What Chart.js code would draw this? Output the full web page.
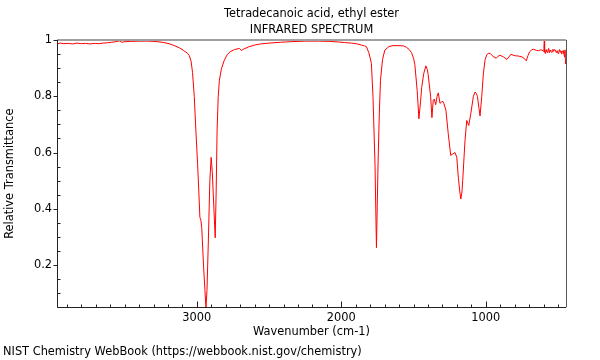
<!DOCTYPE html>
<html>
<head>
<meta charset="utf-8">
<script src="https://cdn.jsdelivr.net/npm/chart.js@4/dist/chart.umd.min.js"></script>
<style>
  body { margin: 0; background: #fff; }
  canvas { display: block; }
</style>
</head>
<body>
<canvas id="spectrum" width="600" height="360"></canvas>
<script>
// spectrum, wavenumber (cm-1) descending
const wavenumber = [
  3968, 3945, 3920, 3890, 3860, 3830, 3800, 3770, 3740, 3710, 3680, 3650, 3620, 3590, 3560, 3535,
  3520, 3500, 3460, 3400, 3340, 3290, 3240, 3200, 3160, 3120, 3090, 3065, 3053, 3040, 3030, 3018,
  3007, 2995, 2987, 2979, 2972, 2966, 2954, 2944, 2937, 2930, 2921, 2910, 2901, 2893, 2882, 2873,
  2866, 2860, 2852, 2844, 2830, 2810, 2790, 2770, 2740, 2706, 2692, 2675, 2640, 2600, 2560, 2500,
  2420, 2350, 2250, 2150, 2080, 2020, 1980, 1930, 1890, 1860, 1840, 1826, 1810, 1800, 1792, 1781,
  1767, 1757, 1746, 1737, 1729, 1715, 1699, 1670, 1642, 1600, 1570, 1549, 1530, 1514, 1500, 1491,
  1475, 1463, 1452, 1444, 1430, 1415, 1405, 1399, 1382, 1373, 1364, 1357, 1347, 1337, 1329, 1317,
  1306, 1297, 1290, 1276, 1260, 1243, 1229, 1213, 1201, 1190, 1180, 1173, 1165, 1160, 1144, 1132,
  1125, 1118, 1104, 1086, 1074, 1066, 1058, 1048, 1040, 1028, 1017, 1005, 993, 980, 970, 950,
  928, 915, 901, 878, 854, 840, 826, 810, 796, 775, 750, 735, 720, 708, 697, 680,
  669, 650, 635, 620, 611, 603, 598, 595, 593, 588, 582, 576, 570, 565, 560, 555,
  550, 545, 541, 536, 530, 525, 518, 512, 506, 500, 495, 490, 485, 480, 475, 471,
  465, 460, 455, 452, 449, 446
];
const transmittance = [
  0.986, 0.989, 0.987, 0.988, 0.986, 0.989, 0.987, 0.988, 0.986, 0.988, 0.987, 0.989, 0.990, 0.992, 0.994, 0.997,
  0.992, 0.994, 0.995, 0.996, 0.996, 0.995, 0.992, 0.988, 0.981, 0.972, 0.962, 0.953, 0.945, 0.925, 0.885, 0.80,
  0.68, 0.56, 0.47, 0.37, 0.36, 0.33, 0.20, 0.11, 0.048, 0.11, 0.275, 0.50, 0.583, 0.53, 0.40, 0.297,
  0.47, 0.68, 0.80, 0.857, 0.898, 0.928, 0.948, 0.958, 0.966, 0.970, 0.963, 0.968, 0.976, 0.982, 0.986, 0.989,
  0.992, 0.994, 0.996, 0.996, 0.995, 0.993, 0.991, 0.989, 0.986, 0.982, 0.979, 0.976, 0.955, 0.935, 0.917, 0.80,
  0.56, 0.262, 0.56, 0.74, 0.857, 0.93, 0.964, 0.977, 0.980, 0.980, 0.979, 0.974, 0.966, 0.955, 0.935, 0.912,
  0.82, 0.72, 0.78, 0.83, 0.88, 0.908, 0.895, 0.877, 0.80, 0.724, 0.786, 0.79, 0.77, 0.80, 0.812, 0.775,
  0.78, 0.782, 0.774, 0.75, 0.667, 0.59, 0.595, 0.60, 0.583, 0.51, 0.46, 0.435, 0.46, 0.50, 0.643, 0.714,
  0.705, 0.696, 0.738, 0.80, 0.815, 0.81, 0.80, 0.76, 0.73, 0.80, 0.88, 0.93, 0.948, 0.953, 0.952, 0.942,
  0.935, 0.942, 0.946, 0.94, 0.931, 0.94, 0.949, 0.946, 0.944, 0.943, 0.940, 0.935, 0.926, 0.945, 0.958, 0.966,
  0.967, 0.963, 0.962, 0.965, 0.964, 0.96, 0.97, 1.0, 0.958, 0.952, 0.966, 0.956, 0.964, 0.970, 0.955, 0.964,
  0.960, 0.956, 0.958, 0.967, 0.960, 0.966, 0.964, 0.955, 0.962, 0.952, 0.956, 0.966, 0.957, 0.962, 0.950, 0.958,
  0.962, 0.952, 0.940, 0.965, 0.93, 0.915
];

const xLabels = [3000, 2000, 1000];
const yLabels = [0.2, 0.4, 0.6, 0.8, 1];
const xRange = [445, 3968];
const yRange = [0.05, 1.0];

const font = { family: 'DejaVu Sans', size: 11.4 };
Chart.defaults.color = '#000';
Chart.defaults.font = font;

// frame and inward/outward tick marks like the NIST plots
const axisMarks = {
  id: 'axisMarks',
  afterDatasetsDraw(chart) {
    const { ctx, chartArea: a, scales: { x, y } } = chart;
    const seg = (x1, y1, x2, y2) => { ctx.beginPath(); ctx.moveTo(x1, y1); ctx.lineTo(x2, y2); ctx.stroke(); };
    ctx.save();
    // top and right border
    ctx.strokeStyle = '#a0a0a0';
    ctx.lineWidth = 2;
    seg(a.left, a.top, a.right, a.top);
    ctx.lineWidth = 1;
    ctx.strokeStyle = '#555';
    seg(Math.round(a.right) + 0.5, a.top, Math.round(a.right) + 0.5, a.bottom);
    // left and bottom axis
    ctx.strokeStyle = '#222';
    const left = Math.round(a.left) + 0.5, bottom = Math.round(a.bottom) + 0.5;
    seg(left, a.top, left, bottom);
    seg(left, bottom, a.right, bottom);
    for (let w = 500; w <= 3900; w += 100) {
      const px = Math.round(x.getPixelForValue(w)) + 0.5;
      seg(px, bottom, px, bottom - (w % 1000 === 0 ? 6 : 3));
    }
    for (let k = 1; k <= 20; k++) {
      const py = Math.round(y.getPixelForValue(k * 0.05)) + 0.5;
      if (k % 4 === 0) seg(left - 4, py, left, py);
      else seg(left, py, left + 3, py);
    }
    ctx.restore();
  }
};

new Chart(document.getElementById('spectrum'), {
  type: 'scatter',
  data: {
    datasets: [{
      label: 'Tetradecanoic acid, ethyl ester',
      data: wavenumber.map((w, i) => ({ x: w, y: transmittance[i] })),
      showLine: true,
      borderColor: '#ff0000',
      borderWidth: 1,
      pointRadius: 0,
      tension: 0
    }]
  },
  options: {
    responsive: false,
    animation: false,
    devicePixelRatio: 1,
    layout: { padding: { left: 3, right: 34, top: 0, bottom: 0 } },
    plugins: {
      legend: { display: false },
      tooltip: { enabled: false },
      title: {
        display: true,
        fullSize: false,
        text: ['Tetradecanoic acid, ethyl ester', 'INFRARED SPECTRUM'],
        font: { family: 'DejaVu Sans', size: 11.4, weight: 'normal', lineHeight: '16px' },
        padding: { top: 6, bottom: 2 }
      },
      subtitle: {
        display: true,
        position: 'bottom',
        align: 'start',
        text: 'NIST Chemistry WebBook (https://webbook.nist.gov/chemistry)',
        font: { family: 'DejaVu Sans', size: 11.4 },
        padding: { top: 3, bottom: 1 }
      }
    },
    scales: {
      x: {
        type: 'linear',
        reverse: true,
        min: xRange[0],
        max: xRange[1],
        grid: { display: false, drawTicks: false },
        border: { display: false },
        afterBuildTicks: s => { s.ticks = xLabels.map(v => ({ value: v })); },
        afterFit: s => { s.height = 35; },
        ticks: { padding: 4, maxRotation: 0, callback: v => String(v) },
        title: { display: true, text: 'Wavenumber (cm-1)', padding: { top: 0, bottom: 3 } }
      },
      y: {
        min: yRange[0],
        max: yRange[1],
        grid: { display: false, drawTicks: false },
        border: { display: false },
        afterBuildTicks: s => { s.ticks = yLabels.map(v => ({ value: v })); },
        afterFit: s => { s.width = 54; },
        ticks: { padding: 5, callback: v => String(v) },
        title: { display: true, text: 'Relative Transmittance', padding: { top: 0, bottom: 0 } }
      }
    }
  },
  plugins: [axisMarks]
});
</script>
</body>
</html>
